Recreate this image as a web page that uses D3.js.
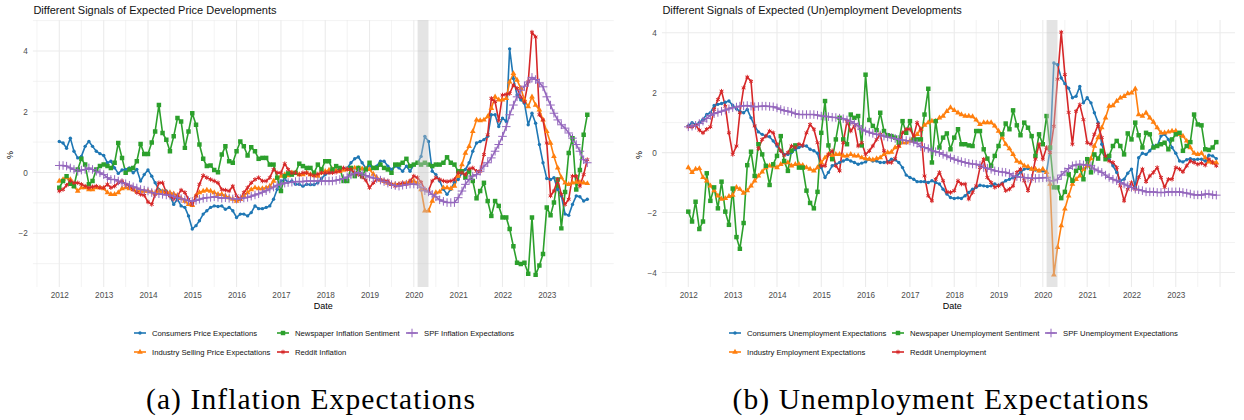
<!DOCTYPE html>
<html>
<head>
<meta charset="utf-8">
<script src="https://cdn.jsdelivr.net/npm/d3@7"></script>
<style>
body { margin: 0; background: #fff; }
.sans { font-family: "Liberation Sans", Arial, sans-serif; }
.caption { font-family: "Liberation Serif", "Times New Roman", serif; letter-spacing: 1.1px; }
</style>
</head>
<body>
<svg id="chart" width="1244" height="420"></svg>
<script>
// ---- data (monthly, Jan 2012 .. Dec 2023), one row per year ----
const yearTicks = [2012, 2013, 2014, 2015, 2016, 2017, 2018, 2019, 2020, 2021, 2022, 2023];

const inflConsumers = [
  1.02, 0.97, 0.80, 1.13, 0.70, 0.48, 0.53, 0.86, 1.02, 0.86, 0.70, 0.62,
  0.56, 0.32, 0.37, 0.15, -0.03, 0.08, 0.10, 0.15, -0.01, 0.10, -0.28, -0.07,
  0.08, -0.12, -0.34, -0.56, -0.61, -0.61, -0.77, -1.05, -0.88, -1.10, -1.15, -1.43,
  -1.86, -1.75, -1.59, -1.37, -1.26, -1.15, -1.10, -1.12, -1.10, -1.21, -1.15, -1.26,
  -1.48, -1.37, -1.37, -1.43, -1.32, -1.10, -1.19, -1.19, -1.15, -1.10, -0.88, -0.55,
  -0.28, -0.23, -0.32, -0.28, -0.39, -0.39, -0.45, -0.39, -0.40, -0.40, -0.34, -0.20,
  -0.07, 0.00, 0.04, 0.08, 0.10, 0.12, 0.15, 0.32, 0.45, 0.51, 0.32, 0.15,
  0.21, 0.15, 0.21, 0.37, 0.37, 0.21, 0.10, 0.21, 0.15, 0.04, 0.21, 0.04,
  0.26, 0.32, 0.53, 1.19, 1.02, 0.04, -0.07, -0.28, -0.55, -0.72, -0.55, -0.32,
  -0.23, -0.01, 0.10, 0.32, 0.70, 0.97, 1.02, 1.08, 1.19, 1.90, 1.90, 1.51,
  1.79, 1.68, 4.07, 3.09, 2.55, 2.39, 2.28, 1.57, 1.95, 1.62, 0.92, 0.32,
  -0.20, -0.23, -0.17, -0.56, -0.77, -1.37, -1.41, -1.05, -0.77, -0.80, -0.94, -0.88
];
const inflIndustry = [
  -0.28, -0.23, -0.17, -0.23, -0.45, -0.61, -0.50, -0.50, -0.56, -0.56, -0.50, -0.50,
  -0.53, -0.66, -0.72, -0.72, -0.66, -0.53, -0.50, -0.53, -0.56, -0.61, -0.61, -0.61,
  -0.61, -0.64, -0.69, -0.61, -0.63, -0.65, -0.66, -0.70, -0.75, -0.85, -0.94, -1.05,
  -1.08, -0.77, -0.66, -0.61, -0.58, -0.61, -0.66, -0.72, -0.72, -0.77, -0.83, -0.88,
  -0.94, -0.88, -0.77, -0.66, -0.56, -0.50, -0.53, -0.53, -0.50, -0.45, -0.28, -0.17,
  -0.12, -0.07, -0.10, -0.01, -0.01, -0.07, -0.07, -0.01, -0.07, -0.10, -0.12, 0.00,
  0.04, 0.08, 0.10, 0.06, 0.04, 0.08, 0.10, 0.12, 0.15, 0.14, 0.12, 0.11,
  0.10, -0.05, -0.17, -0.25, -0.28, -0.35, -0.39, -0.39, -0.39, -0.36, -0.34, -0.30,
  -0.28, -0.34, -0.56, -1.26, -1.26, -0.94, -0.66, -0.64, -0.50, -0.50, -0.53, -0.45,
  -0.12, 0.26, 0.64, 0.86, 1.35, 1.73, 1.71, 1.73, 1.84, 2.11, 2.49, 2.39,
  2.39, 2.44, 2.98, 3.26, 3.04, 2.77, 2.39, 2.17, 2.49, 2.22, 2.06, 1.73,
  1.35, 0.97, 0.53, 0.15, -0.17, -0.34, -0.39, -0.34, -0.32, -0.32, -0.34, -0.36
];
const inflNewspaper = [
  -0.50, -0.28, -0.12, -0.37, -0.45, 0.10, 0.45, 0.26, -0.39, -0.28, 0.10, 0.21,
  0.26, 0.21, 0.15, 0.32, 0.97, 0.48, -0.01, 0.10, 0.15, 0.37, 0.94, 0.61,
  0.61, 0.99, 1.35, 2.22, 1.30, 1.08, 0.70, 1.19, 1.79, 1.68, 0.81, 1.35,
  1.95, 1.57, 0.92, 0.45, 0.21, 0.23, 0.08, 0.01, 0.59, 0.86, 0.37, 0.32,
  0.70, 1.02, 0.86, 0.56, 0.83, 0.70, 0.45, 0.48, 0.48, 0.26, 0.26, -0.17,
  -0.61, -0.12, -0.03, -0.07, -0.01, 0.29, 0.21, 0.15, 0.15, -0.01, 0.26, 0.10,
  0.37, 0.37, 0.10, 0.21, 0.15, -0.28, -0.28, 0.15, -0.12, 0.15, -0.12, 0.10,
  0.32, 0.15, 0.15, 0.26, 0.15, 0.10, -0.01, 0.26, 0.26, 0.32, 0.45, 0.21,
  0.26, 0.32, 0.26, 0.32, 0.26, 0.21, 0.26, 0.26, 0.32, 0.50, 0.32, 0.26,
  0.04, 0.04, -0.17, 0.04, -0.28, -0.85, -0.61, -0.34, -0.94, -1.43, -0.94, -1.10,
  -1.48, -1.48, -1.86, -2.43, -2.97, -3.01, -2.97, -3.33, -1.48, -3.37, -3.06, -2.68,
  -1.15, -1.41, -0.99, -0.23, -1.84, -0.64, 0.64, 1.13, -0.56, 0.08, 1.24, 1.90
];
const inflReddit = [
  -0.61, -0.56, -0.42, -0.28, -0.34, -0.34, -0.39, -0.45, -0.50, -0.47, -0.45, -0.50,
  -0.50, -0.39, -0.50, -0.45, -0.34, -0.28, -0.39, -0.45, -0.56, -0.66, -0.72, -0.75,
  -0.97, -1.05, -0.72, -0.34, -0.34, -0.66, -0.77, -0.88, -0.77, -0.58, -0.66, -0.88,
  -1.05, -0.77, -0.39, -0.10, -0.17, -0.23, -0.28, -0.34, -0.56, -0.58, -0.61, -0.45,
  -0.77, -0.88, -0.66, -0.50, -0.34, -0.23, -0.17, -0.28, -0.28, -0.17, 0.10, -0.01,
  -0.01, 0.29, 0.10, -0.01, -0.01, -0.07, -0.01, -0.01, -0.07, -0.10, -0.05, -0.01,
  -0.01, -0.01, -0.01, 0.01, 0.05, 0.15, 0.10, 0.10, -0.01, -0.07, -0.15, -0.25,
  -0.50, -0.34, -0.23, -0.23, -0.28, -0.28, -0.39, -0.45, -0.39, -0.34, -0.39, -0.28,
  -0.12, -0.17, -0.32, -0.56, -0.61, -0.28, -0.17, -0.23, -0.28, -0.30, -0.28, -0.23,
  -0.01, -0.01, -0.07, 0.12, 0.15, 0.04, 0.04, 0.59, 1.24, 2.44, 2.33, 1.71,
  2.55, 2.57, 2.60, 2.88, 2.77, 2.49, 2.33, 2.98, 4.62, 4.46, 1.90, 1.73,
  0.97, -0.77, -0.61, -0.23, -0.72, -1.05, -0.88, -0.12, -0.12, -0.45, -0.07, 0.42
];
const inflSpf = [
  0.23, 0.23, 0.21, 0.15, 0.10, 0.04, 0.08, 0.10, 0.15, 0.10, 0.04, -0.01,
  -0.07, -0.17, -0.23, -0.23, -0.28, -0.34, -0.37, -0.42, -0.47, -0.51, -0.56, -0.58,
  -0.61, -0.66, -0.70, -0.70, -0.72, -0.74, -0.75, -0.78, -0.82, -0.86, -0.90, -0.93,
  -0.95, -0.92, -0.88, -0.85, -0.83, -0.82, -0.80, -0.82, -0.85, -0.83, -0.85, -0.87,
  -0.88, -0.86, -0.84, -0.82, -0.78, -0.74, -0.70, -0.65, -0.60, -0.54, -0.48, -0.42,
  -0.38, -0.35, -0.33, -0.32, -0.30, -0.30, -0.30, -0.28, -0.28, -0.28, -0.28, -0.28,
  -0.28, -0.28, -0.28, -0.26, -0.23, -0.20, -0.15, -0.08, -0.03, 0.00, -0.05, -0.10,
  -0.15, -0.18, -0.20, -0.25, -0.30, -0.35, -0.40, -0.43, -0.45, -0.42, -0.40, -0.38,
  -0.38, -0.40, -0.50, -0.60, -0.64, -0.72, -0.80, -0.90, -0.95, -0.99, -0.99, -0.99,
  -0.83, -0.61, -0.39, -0.23, -0.12, -0.07, 0.04, 0.21, 0.32, 0.48, 0.70, 0.92,
  1.19, 1.51, 1.90, 2.22, 2.49, 2.71, 2.84, 2.98, 3.13, 3.06, 2.95, 2.82,
  2.49, 2.22, 1.95, 1.73, 1.57, 1.46, 1.30, 1.13, 0.92, 0.70, 0.42, 0.32
];

const unempConsumers = [
  0.89, 1.00, 0.94, 1.00, 1.11, 1.27, 1.33, 1.57, 1.61, 1.64, 1.68, 1.72,
  1.57, 1.46, 1.38, 1.33, 1.44, 1.16, 0.89, 0.69, 0.61, 0.55, 0.53, 0.39,
  0.22, 0.06, -0.06, -0.06, 0.00, 0.11, 0.17, 0.22, 0.22, 0.11, 0.06, -0.02,
  -0.50, -0.83, -0.66, -0.44, -0.39, -0.33, -0.28, -0.22, -0.28, -0.33, -0.39, -0.35,
  -0.31, -0.22, -0.28, -0.28, -0.33, -0.33, -0.30, -0.22, -0.24, -0.33, -0.50, -0.75,
  -0.83, -0.89, -0.97, -0.97, -0.97, -1.00, -0.94, -1.00, -1.05, -1.22, -1.38, -1.50,
  -1.53, -1.51, -1.53, -1.44, -1.33, -1.22, -1.16, -1.09, -1.11, -1.13, -1.11, -1.05,
  -1.09, -1.02, -0.94, -0.89, -0.83, -0.78, -0.66, -0.55, -0.53, -0.55, -0.58, -0.61,
  -0.61, -0.66, 0.10, 2.99, 2.93, 2.49, 2.30, 2.15, 1.83, 1.88, 2.21, 1.66,
  1.83, 1.66, 1.33, 1.00, 0.28, -0.11, -0.22, -0.44, -0.66, -0.94, -0.89, -0.69,
  -0.55, -1.16, -0.17, -0.02, -0.06, 0.06, 0.22, 0.22, 0.55, 0.61, 0.44, 0.17,
  -0.02, -0.28, -0.31, -0.24, -0.20, -0.24, -0.22, -0.22, -0.28, -0.09, -0.11, -0.20
];
const unempIndustry = [
  -0.50, -0.66, -0.55, -0.53, -0.83, -0.94, -1.11, -1.27, -1.44, -1.55, -1.53, -1.46,
  -1.42, -1.16, -1.22, -1.35, -1.27, -1.11, -0.94, -0.78, -0.64, -0.50, -0.44, -0.44,
  -0.50, -0.39, -0.33, -0.33, -0.44, -0.39, -0.39, -0.42, -0.50, -0.55, -0.61, -0.50,
  -0.33, -0.17, -0.06, -0.11, -0.06, -0.06, -0.11, -0.11, -0.06, -0.11, -0.11, -0.17,
  -0.20, -0.22, -0.24, -0.20, -0.17, -0.06, 0.00, 0.02, 0.17, 0.22, 0.33, 0.33,
  0.39, 0.50, 0.61, 0.78, 0.92, 1.00, 1.05, 1.05, 1.16, 1.22, 1.38, 1.50,
  1.41, 1.33, 1.27, 1.22, 1.22, 1.20, 1.09, 0.94, 1.00, 1.00, 1.00, 0.89,
  0.72, 0.50, 0.28, 0.13, -0.06, -0.28, -0.33, -0.44, -0.47, -0.55, -0.55, -0.61,
  -0.55, -0.66, -1.05, -4.08, -3.16, -2.44, -1.88, -1.44, -1.05, -0.89, -0.78, -0.55,
  -0.44, -0.20, 0.22, 0.50, 0.83, 1.16, 1.55, 1.57, 1.72, 1.83, 1.88, 1.97,
  1.99, 2.13, 1.27, 1.22, 1.33, 1.16, 1.02, 0.83, 0.66, 0.66, 0.69, 0.72,
  0.72, 0.61, 0.55, 0.39, 0.17, -0.02, -0.06, -0.02, -0.17, -0.31, -0.33, -0.33
];
const unempNewspaper = [
  -1.97, -2.30, -1.64, -2.55, -2.30, -0.69, -1.61, -1.16, -1.86, -0.97, -1.97, -2.41,
  -1.20, -2.82, -3.21, -2.35, -0.42, 0.03, -0.78, 0.28, -0.06, -0.44, -1.08, -0.39,
  -0.11, 0.55, -0.28, -0.61, 0.06, 0.24, -0.50, -0.50, -1.27, -1.68, -1.86, -1.31,
  0.66, 1.72, 0.24, -0.22, 0.44, 1.16, 0.44, 0.28, 1.27, 1.16, 1.22, 0.24,
  2.60, 1.09, 0.89, 0.75, 1.33, 0.72, 0.58, 0.55, 0.50, 0.33, 1.05, 0.66,
  1.05, 0.44, 0.44, 0.44, 1.27, 2.13, -0.33, 1.05, 0.17, 0.50, 0.64, 0.11,
  0.50, 0.78, 0.28, 0.28, 0.24, 0.22, 0.72, 0.72, 0.11, -0.20, -0.44, -0.11,
  0.22, 0.61, 0.97, 0.78, 1.41, 0.91, 0.58, 1.00, 0.83, 0.55, -0.11, 0.61,
  0.28, 1.22, 0.17, -1.16, -1.16, -1.52, -1.31, -0.72, -0.94, -0.61, -0.50, -0.89,
  -0.22, -0.66, -0.06, -0.20, 0.06, -0.22, -0.11, 0.22, 0.39, 0.22, -0.06, 0.64,
  0.44, 1.00, 0.58, 0.17, 0.66, 0.61, 0.17, 0.22, 0.28, 0.33, 0.11, 0.44,
  0.61, 0.66, 0.06, 0.22, 0.35, 1.27, 0.94, 0.91, 0.11, 0.09, 0.17, 0.35
];
const unempReddit = [
  0.86, 0.86, 0.91, 0.75, 0.66, 0.78, 0.86, 1.44, 1.77, 2.05, 1.55, 0.66,
  -0.06, 0.22, 1.33, 2.16, 2.52, 2.38, 0.89, 0.13, 0.44, 0.55, 0.72, 0.66,
  0.28, 0.06, -0.09, 0.00, 0.22, 0.17, 0.28, 0.24, 0.66, 0.94, 0.78, 0.33,
  -0.44, -0.44, -0.06, 0.06, -0.44, -0.61, 0.33, 1.05, 0.72, 0.89, 0.22, 0.33,
  -0.06, 0.06, 0.22, 0.44, 0.61, 0.06, -0.33, -0.33, -0.20, 0.22, 0.66, 0.78,
  0.78, 0.55, 1.00, 0.78, -0.78, -1.44, -1.61, -0.89, -0.66, -0.94, -1.31, -1.33,
  -1.27, -0.94, -1.05, -1.05, -1.55, -1.33, -1.11, -0.50, -0.22, -0.83, -1.00, -1.16,
  -1.11, -1.05, -1.27, -1.22, -1.11, -0.66, -0.55, -0.94, -1.27, -0.89, -0.22, 0.28,
  -0.22, 0.17, 0.00, 0.88, 2.45, 4.02, 2.60, 1.34, 0.28, 1.38, 1.60, 1.10,
  0.33, 0.28, 0.61, 0.94, 0.50, -0.11, -0.28, -0.33, -0.50, -1.11, -1.61, -1.22,
  -1.00, -1.22, -0.83, -0.55, -0.97, -0.78, -0.66, -0.50, -0.83, -1.16, -0.89, -0.89,
  -0.50, -0.55, -0.64, -0.44, -0.28, -0.33, -0.39, -0.35, -0.42, -0.22, -0.33, -0.44
];
const unempSpf = [
  0.86, 0.88, 0.91, 0.97, 1.05, 1.14, 1.24, 1.30, 1.34, 1.38, 1.42, 1.46,
  1.50, 1.52, 1.55, 1.56, 1.57, 1.55, 1.53, 1.54, 1.55, 1.55, 1.54, 1.53,
  1.49, 1.44, 1.40, 1.38, 1.35, 1.30, 1.27, 1.27, 1.27, 1.27, 1.27, 1.25,
  1.22, 1.21, 1.20, 1.18, 1.17, 1.15, 1.13, 1.09, 1.04, 0.97, 0.89, 0.78,
  0.72, 0.68, 0.64, 0.61, 0.59, 0.55, 0.52, 0.50, 0.47, 0.44, 0.42, 0.40,
  0.39, 0.35, 0.31, 0.20, 0.17, 0.13, 0.06, 0.03, 0.00, -0.06, -0.11, -0.17,
  -0.22, -0.26, -0.30, -0.33, -0.36, -0.38, -0.39, -0.42, -0.50, -0.52, -0.56, -0.61,
  -0.63, -0.65, -0.66, -0.70, -0.78, -0.80, -0.82, -0.83, -0.85, -0.86, -0.86, -0.85,
  -0.84, -0.83, -0.94, -0.94, -0.89, -0.75, -0.64, -0.53, -0.44, -0.41, -0.39, -0.41,
  -0.42, -0.44, -0.55, -0.61, -0.66, -0.75, -0.83, -0.89, -0.94, -1.00, -1.05, -1.11,
  -1.16, -1.22, -1.24, -1.27, -1.31, -1.31, -1.31, -1.33, -1.33, -1.33, -1.31, -1.31,
  -1.31, -1.31, -1.33, -1.35, -1.38, -1.41, -1.41, -1.42, -1.38, -1.38, -1.41, -1.42
];

const recessionStart = new Date(2020, 1, 1);
const recessionEnd = new Date(2020, 4, 1);

// ---- styles ----
const styles = {
  consumers: { color: "#1f77b4", symbol: d3.symbolCircle, size: 9, filled: true },
  industry:  { color: "#ff7f0e", symbol: d3.symbolTriangle, size: 14, filled: true },
  newspaper: { color: "#2ca02c", symbol: d3.symbolSquare, size: 20, filled: true },
  reddit:    { color: "#d62728", symbol: d3.symbolAsterisk, size: 14, filled: false },
  spf:       { color: "#9467bd", symbol: d3.symbolPlus, size: 26, filled: false }
};

const months = d3.range(inflConsumers.length).map(i => new Date(2012, i, 1));
const svg = d3.select("#chart");

function drawPanel(cfg) {
  const top = 20, bottom = 287, width = 580.8;
  const t0 = months[0], t1 = months[months.length - 1];
  const pad = (t1 - t0) * 0.05;
  const x = d3.scaleTime()
    .domain([new Date(+t0 - pad), new Date(+t1 + pad)])
    .range([cfg.left, cfg.left + width]);
  const all = cfg.series.flatMap(s => s.values);
  const lo = d3.min(all), hi = d3.max(all), ypad = (hi - lo) * 0.05;
  const y = d3.scaleLinear().domain([lo - ypad, hi + ypad]).range([bottom, top]);
  const right = Math.min(cfg.left + width, cfg.clipRight);

  const g = svg.append("g").attr("class", "sans");
  const grid = g.append("g").attr("stroke", "#ebebeb").attr("fill", "none");

  // horizontal grid
  const yMajor = cfg.yTicks;
  const yMinor = d3.range(Math.ceil(y.domain()[0]), Math.floor(y.domain()[1]) + 1).filter(v => !yMajor.includes(v));
  yMinor.forEach(v => grid.append("line").attr("x1", cfg.left).attr("x2", right)
    .attr("y1", y(v)).attr("y2", y(v)).attr("stroke-width", 0.6));
  yMajor.forEach(v => grid.append("line").attr("x1", cfg.left).attr("x2", right)
    .attr("y1", y(v)).attr("y2", y(v)).attr("stroke-width", 1.1));

  // vertical grid: years and half years
  const halfYears = d3.range(2011, 2024).map(yr => new Date(yr, 6, 1));
  halfYears.forEach(d => grid.append("line").attr("x1", x(d)).attr("x2", x(d))
    .attr("y1", top).attr("y2", bottom).attr("stroke-width", 0.6));
  yearTicks.concat([2024]).forEach(yr => {
    const d = new Date(yr, 0, 1);
    grid.append("line").attr("x1", x(d)).attr("x2", x(d))
      .attr("y1", top).attr("y2", bottom).attr("stroke-width", 1.1);
  });

  // axes labels
  const xAxis = d3.axisBottom(x)
    .tickValues(yearTicks.map(yr => new Date(yr, 0, 1)))
    .tickFormat(d3.timeFormat("%Y")).tickSize(0).tickPadding(0);
  g.append("g").attr("transform", `translate(0,${bottom + 5})`).call(xAxis)
    .call(a => a.select(".domain").remove())
    .selectAll("text").attr("fill", "#4d4d4d").attr("font-size", 8.2)
    .attr("font-family", "Liberation Sans, Arial, sans-serif");

  const yAxis = d3.axisLeft(y).tickValues(yMajor).tickSize(0).tickPadding(0)
    .tickFormat(d => d3.format("d")(d).replace("-", "\u2212"));
  g.append("g").attr("transform", `translate(${cfg.left - 5},0)`).call(yAxis)
    .call(a => a.select(".domain").remove())
    .selectAll("text").attr("fill", "#4d4d4d").attr("font-size", 8.2)
    .attr("font-family", "Liberation Sans, Arial, sans-serif");

  g.append("text").attr("x", cfg.left + width / 2).attr("y", 309)
    .attr("text-anchor", "middle").attr("font-size", 9).text("Date");
  g.append("text").attr("transform", `translate(${cfg.left - 20},155) rotate(-90)`)
    .attr("text-anchor", "middle").attr("font-size", 9).text("%");
  g.append("text").attr("x", cfg.left + 0.5).attr("y", 13.5)
    .attr("font-size", 11).attr("fill", "#111").text(cfg.title);

  // lines then points
  const clipId = "clip" + Math.round(cfg.left);
  svg.append("defs").append("clipPath").attr("id", clipId)
    .append("rect").attr("x", cfg.left).attr("y", 0).attr("width", right - cfg.left).attr("height", 300);
  const plot = g.append("g").attr("clip-path", `url(#${clipId})`);
  const line = d3.line().x((d, i) => x(months[i])).y(d => y(d));
  cfg.series.forEach(s => {
    plot.append("path").attr("d", line(s.values)).attr("fill", "none")
      .attr("stroke", s.style.color).attr("stroke-width", 1.6)
      .attr("stroke-linejoin", "round");
  });
  cfg.series.forEach(s => {
    const sym = d3.symbol().type(s.style.symbol).size(s.style.size);
    plot.append("g").selectAll("path").data(s.values).join("path")
      .attr("transform", (d, i) => `translate(${x(months[i])},${y(d)})`)
      .attr("d", sym)
      .attr("fill", s.style.filled ? s.style.color : "none")
      .attr("stroke", s.style.filled ? "none" : s.style.color)
      .attr("stroke-width", 1);
  });

  // recession shading on top
  plot.append("rect").attr("x", x(recessionStart)).attr("y", top)
    .attr("width", x(recessionEnd) - x(recessionStart)).attr("height", bottom - top)
    .attr("fill", "#c4c4c4").attr("opacity", 0.45);

  // legend (3 columns x 2 rows, filled by column)
  const order = ["consumers", "industry", "newspaper", "reddit", "spf"];
  order.forEach((k, i) => {
    const s = cfg.series.find(z => z.key === k);
    const col = Math.floor(i / 2), row = i % 2;
    const lx = cfg.legendCols[col], ly = 333 + row * 19;
    const lg = g.append("g");
    lg.append("line").attr("x1", lx).attr("x2", lx + 12).attr("y1", ly).attr("y2", ly)
      .attr("stroke", s.style.color).attr("stroke-width", 1.6);
    lg.append("path").attr("transform", `translate(${lx + 6},${ly})`)
      .attr("d", d3.symbol().type(s.style.symbol).size(s.style.size)())
      .attr("fill", s.style.filled ? s.style.color : "none")
      .attr("stroke", s.style.filled ? "none" : s.style.color).attr("stroke-width", 1);
    lg.append("text").attr("x", lx + 18).attr("y", ly + 3).attr("font-size", 7.7)
      .attr("fill", "#111").text(s.label);
  });

  svg.append("text").attr("class", "caption")
    .attr("x", cfg.captionX).attr("y", 409).attr("text-anchor", "middle")
    .attr("font-size", 29.5).attr("fill", "#000")
    .text(cfg.caption);
}

drawPanel({
  left: 32.9, clipRight: 620,
  title: "Different Signals of Expected Price Developments",
  yTicks: [-2, 0, 2, 4],
  legendCols: [134, 277, 406],
  caption: "(a) Inflation Expectations", captionX: 311,
  series: [
    { key: "consumers", label: "Consumers Price Expectations", values: inflConsumers, style: styles.consumers },
    { key: "industry", label: "Industry Selling Price Expectations", values: inflIndustry, style: styles.industry },
    { key: "newspaper", label: "Newspaper Inflation Sentiment", values: inflNewspaper, style: styles.newspaper },
    { key: "reddit", label: "Reddit Inflation", values: inflReddit, style: styles.reddit },
    { key: "spf", label: "SPF Inflation Expectations", values: inflSpf, style: styles.spf }
  ]
});

drawPanel({
  left: 661.9, clipRight: 1235,
  title: "Different Signals of Expected (Un)employment Developments",
  yTicks: [-4, -2, 0, 2, 4],
  legendCols: [729, 892, 1045],
  caption: "(b) Unemployment Expectations", captionX: 941,
  series: [
    { key: "consumers", label: "Consumers Unemployment Expectations", values: unempConsumers, style: styles.consumers },
    { key: "industry", label: "Industry Employment Expectations", values: unempIndustry, style: styles.industry },
    { key: "newspaper", label: "Newspaper Unemployment Sentiment", values: unempNewspaper, style: styles.newspaper },
    { key: "reddit", label: "Reddit Unemployment", values: unempReddit, style: styles.reddit },
    { key: "spf", label: "SPF Unemployment Expectations", values: unempSpf, style: styles.spf }
  ]
});
</script>
</body>
</html>
